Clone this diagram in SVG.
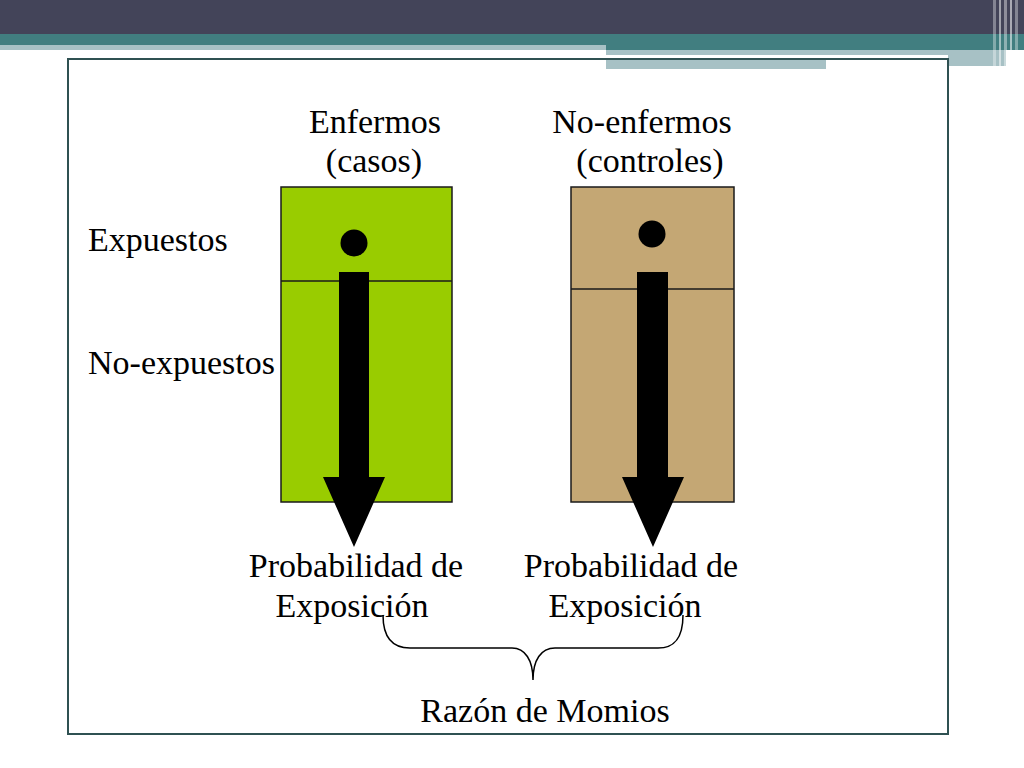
<svg xmlns="http://www.w3.org/2000/svg" width="1024" height="768" viewBox="0 0 1024 768">
<style>
.t{font-family:"Liberation Serif","Times New Roman",serif;font-size:34px;fill:#000}
.box{stroke:#1a1a1a;stroke-width:1.5}
.div{stroke:#1a1a1a;stroke-width:1.5}
</style>
<rect width="1024" height="768" fill="#ffffff"/>
<g id="header">
<rect x="0" y="0" width="1024" height="34" fill="#434459"/>
<rect x="0" y="34" width="1024" height="11" fill="#417E80"/>
<rect x="0" y="45" width="606" height="5" fill="#A7C1C5"/>
<rect x="606" y="45" width="418" height="5" fill="#417E80"/>
<rect x="606" y="50" width="400" height="5" fill="#A7C1C5"/>
<rect x="606" y="59" width="220" height="10" fill="#A7C1C5"/>
<rect x="948" y="55" width="58" height="11" fill="#A7C1C5"/>
<rect x="993" y="0" width="3" height="68" fill="#ffffff" opacity="0.35"/>
<rect x="999" y="0" width="2" height="68" fill="#ffffff" opacity="0.5"/>
<rect x="1004" y="0" width="3" height="68" fill="#ffffff" opacity="0.4"/>
<rect x="1010" y="0" width="2" height="68" fill="#ffffff" opacity="0.55"/>
<rect x="1015" y="0" width="3" height="68" fill="#ffffff" opacity="0.35"/>
</g>
<rect id="frame" x="68" y="59" width="880" height="675" fill="none" stroke="#2F5152" stroke-width="2"/>
<g id="casos">
<rect class="box" x="281" y="187" width="171" height="315" fill="#99CC00"/>
<line class="div" x1="281" y1="281" x2="452" y2="281"/>
<circle cx="354" cy="243" r="13.5" fill="#000"/>
</g>
<g id="controles">
<rect class="box" x="571" y="187" width="163" height="315" fill="#C4A774"/>
<line class="div" x1="571" y1="289" x2="734" y2="289"/>
<circle cx="652" cy="234" r="13.5" fill="#000"/>
</g>
<g id="connectors">
<polygon points="339,272 369,272 369,477 385,477 354,547 323,477 339,477" fill="#000"/>
<polygon points="637,272 668,272 668,477 684,477 653,547 622,477 637,477" fill="#000"/>
<path d="M383,615 C383,640 395,648 410,648 L512,648 C525,648 533,660 533,680 C533,660 541,648 555,648 L658,648 C673,648 683,640 683,615" fill="none" stroke="#000" stroke-width="1.5"/>
</g>
<g id="labels">
<text class="t" x="375" y="133" text-anchor="middle">Enfermos</text>
<text class="t" x="374" y="172" text-anchor="middle">(casos)</text>
<text class="t" x="642" y="133" text-anchor="middle">No-enfermos</text>
<text class="t" x="650" y="172" text-anchor="middle">(controles)</text>
<text class="t" x="88" y="251">Expuestos</text>
<text class="t" x="88" y="374">No-expuestos</text>
<text class="t" x="356" y="577" text-anchor="middle">Probabilidad de</text>
<text class="t" x="352" y="617" text-anchor="middle">Exposición</text>
<text class="t" x="631" y="577" text-anchor="middle">Probabilidad de</text>
<text class="t" x="625" y="617" text-anchor="middle">Exposición</text>
<text class="t" x="545" y="722" text-anchor="middle">Razón de Momios</text>
</g>
</svg>
